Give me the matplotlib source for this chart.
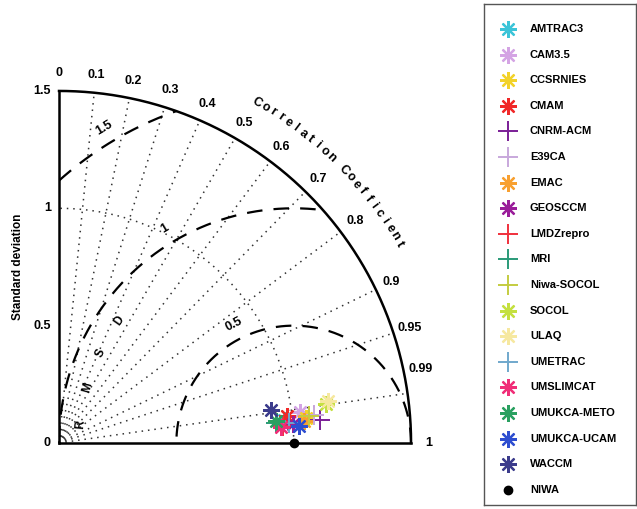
import numpy as np
import matplotlib
matplotlib.use('Agg')
import matplotlib.pyplot as plt
from matplotlib.patches import Wedge

plt.rcParams['font.family'] = ['Liberation Sans', 'DejaVu Sans']

# ---------------- data ----------------
models = ['AMTRAC3', 'CAM3.5', 'CCSRNIES', 'CMAM', 'CNRM-ACM', 'E39CA', 'EMAC',
          'GEOSCCM', 'LMDZrepro', 'MRI', 'Niwa-SOCOL', 'SOCOL', 'ULAQ', 'UMETRAC',
          'UMSLIMCAT', 'UMUKCA-METO', 'UMUKCA-UCAM', 'WACCM']
std_ratio = [0.964, 1.035, 1.057, 0.978, 1.117, 1.094, 1.048,
             1.000, 0.957, 0.929, 1.071, 1.150, 1.160, 0.984,
             0.948, 0.929, 1.026, 0.914]
corr = [0.995, 0.992, 0.995, 0.993, 0.996, 0.994, 0.996,
        0.9967, 0.9972, 0.9958, 0.994, 0.9895, 0.988, 0.9963,
        0.9974, 0.9949, 0.9975, 0.988]
colors = ['#3cc4d8', '#d4a4e4', '#f2d22a', '#f02828', '#7a1e96', '#c8a8dc', '#f8a030',
          '#9a1e9a', '#f0303c', '#2a9a78', '#c4cc40', '#c4e040', '#f6e8a0', '#70a8cc',
          '#f02e78', '#2aa060', '#2e4ed0', '#3c3c8c']
symbols = ['ast', 'ast', 'ast', 'ast', 'plus', 'plus', 'ast',
           'ast', 'plus', 'plus', 'plus', 'ast', 'ast', 'plus',
           'ast', 'ast', 'ast', 'ast']
ref_name = 'NIWA'
ref_std = 1.0

corr_ticks = [0, 0.1, 0.2, 0.3, 0.4, 0.5, 0.6, 0.7, 0.8, 0.9, 0.95, 0.99, 1]
corr_rays = [0.1, 0.2, 0.3, 0.4, 0.5, 0.6, 0.7, 0.8, 0.9, 0.95, 0.99]
std_ticks = [0, 0.5, 1, 1.5]
std_arcs = [1.0]
rmsd_levels = [0.5, 1.0, 1.5]
std_max = 1.5

# ---------------- figure ----------------
W, H = 637, 509
fig = plt.figure(figsize=(W / 100, H / 100), dpi=100)
scale = 234.7  # px per unit
ox, oy = 59, 443
ax = fig.add_axes([0, 0, 480 / W, 1])
ax.set_xlim(-ox / scale, (480 - ox) / scale)
ax.set_ylim(-(H - oy) / scale, oy / scale)
ax.axis('off')

# outer frame
th = np.linspace(0, np.pi / 2, 300)
ax.plot(std_max * np.cos(th), std_max * np.sin(th), color='black', lw=1.8, zorder=3)
ax.plot([0, std_max], [0, 0], color='black', lw=1.8, zorder=3)
ax.plot([0, 0], [0, std_max], color='black', lw=1.8, zorder=3)

# correlation rays
for c in corr_rays:
    a = np.arccos(c)
    ax.plot([0, std_max * np.cos(a)], [0, std_max * np.sin(a)], color='#333333',
            lw=1.1, linestyle=(0, (1, 3.2)), zorder=1)

# std arcs
for s in std_arcs:
    ax.plot(s * np.cos(th), s * np.sin(th), color='#333333', lw=1.1,
            linestyle=(0, (1, 3.2)), zorder=1)

# rmsd circles
clip = Wedge((0, 0), std_max, 0, 90, transform=ax.transData, facecolor='none',
             edgecolor='none')
ax.add_patch(clip)
phi = np.linspace(0, np.pi, 600)
for r in rmsd_levels:
    ln, = ax.plot(ref_std + r * np.cos(phi), r * np.sin(phi), color='black', lw=1.6,
                  dashes=(7, 5), zorder=2)
    ln.set_clip_path(clip)
    ang = np.deg2rad(121 if r != 0.5 else 117)
    rr = r + 0.065
    lab = ('%g' % r)
    ax.text(ref_std + rr * np.cos(ang), rr * np.sin(ang), lab, rotation=np.rad2deg(ang) - 90,
            ha='center', va='center', fontsize=9, fontweight='bold', zorder=4)

# RMSD letters
for i, ch in enumerate('RMSD'):
    ang = np.deg2rad(175 - 10 * i)
    rr = 0.91
    ax.text(ref_std + rr * np.cos(ang), rr * np.sin(ang), ch, rotation=np.rad2deg(ang) - 90,
            ha='center', va='center', fontsize=8.5, fontweight='bold', zorder=4)

# correlation tick labels
for c in corr_ticks:
    a = np.arccos(c)
    if c == 0.99:
        a += np.deg2rad(3.5)
    rr = 1.575
    ax.text(rr * np.cos(a), rr * np.sin(a), '%g' % c, ha='center', va='center',
            fontsize=9, fontweight='bold')

# curved title
title = 'Correlation Coefficient'
n = len(title)
for i, ch in enumerate(title):
    ang = np.deg2rad(59.8 - i * (29.5 / (n - 1)))
    rr = 1.68
    ax.text(rr * np.cos(ang), rr * np.sin(ang), ch, rotation=np.rad2deg(ang) - 90,
            ha='center', va='center', fontsize=9, fontweight='bold')

# std tick labels
for s in std_ticks:
    ax.text(-0.035, s, '%g' % s, ha='right', va='center', fontsize=9, fontweight='bold')
ax.text(-0.175, 0.75, 'Standard deviation', rotation=90, ha='center', va='center',
        fontsize=8.5, fontweight='bold')


def draw_marker(axis, x, y, sym, col, legend=False):
    if sym == 'ast':
        axis.plot([x], [y], marker=(8, 2, 0), ms=12, mew=1.6, color=col, ls='none', zorder=5)
    elif sym == 'plus':
        axis.plot([x], [y], marker='+', ms=14, mew=1.4, color=col, ls='none', zorder=5)
    else:
        axis.plot([x], [y], marker='o', ms=6, color=col, ls='none', zorder=6)


# data points
for s, c, col, sym in zip(std_ratio, corr, colors, symbols):
    a = np.arccos(c)
    draw_marker(ax, s * np.cos(a), s * np.sin(a), sym, col)
draw_marker(ax, ref_std, 0, 'dot', 'black')

# legend
lx0, ly0 = 484, 4
lw_, lh_ = 152, 501
lax = fig.add_axes([lx0 / W, (H - ly0 - lh_) / H, lw_ / W, lh_ / H])
lax.set_xlim(0, lw_)
lax.set_ylim(lh_, 0)
lax.set_xticks([])
lax.set_yticks([])
for sp in lax.spines.values():
    sp.set_linewidth(1.0)
    sp.set_color('#555555')
names = models + [ref_name]
syms = symbols + ['dot']
cols = colors + ['black']
for i, (nm, sy, cl) in enumerate(zip(names, syms, cols)):
    yy = 25 + i * 25.6
    draw_marker(lax, 24, yy, sy, cl)
    lax.text(46, yy, nm, ha='left', va='center', fontsize=8, fontweight='bold')

fig.savefig('out.png', dpi=100)
